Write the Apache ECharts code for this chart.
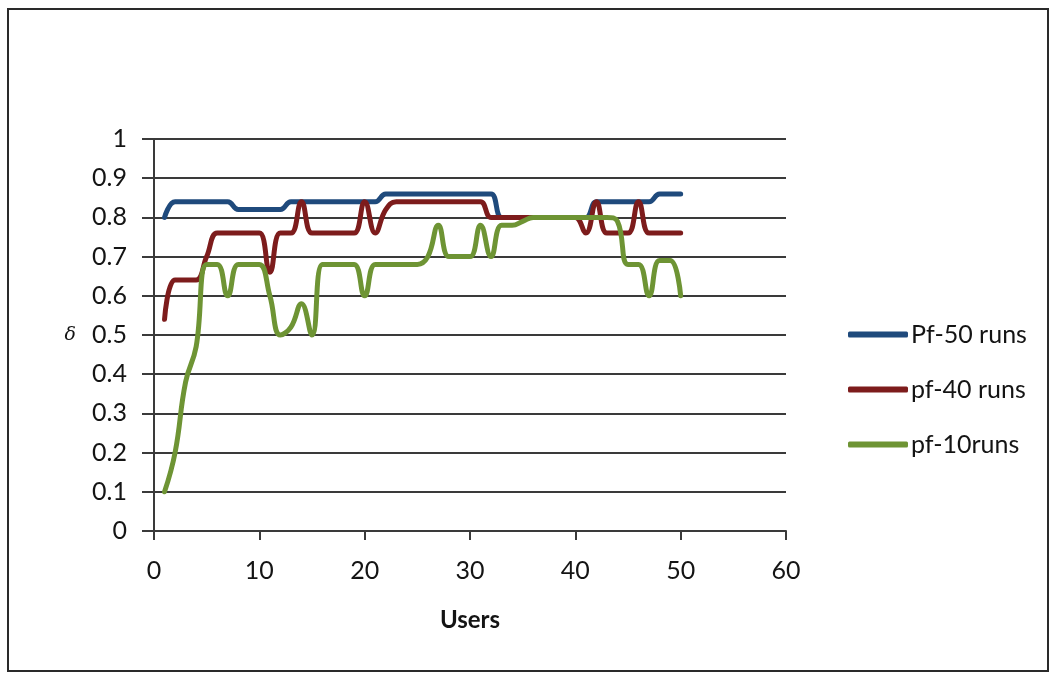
<!DOCTYPE html>
<html>
<head>
<meta charset="utf-8">
<script src="https://cdn.jsdelivr.net/npm/echarts@6/dist/echarts.min.js"></script>
<style>
  html, body { margin: 0; padding: 0; background: #ffffff; }
  #chart { width: 1056px; height: 673px; }
</style>
</head>
<body>
<div id="chart"></div>
<script>
// Users on the x axis
const users = [1, 2, 3, 4, 5, 6, 7, 8, 9, 10,
  11, 12, 13, 14, 15, 16, 17, 18, 19, 20,
  21, 22, 23, 24, 25, 26, 27, 28, 29, 30,
  31, 32, 33, 34, 35, 36, 37, 38, 39, 40,
  41, 42, 43, 44, 45, 46, 47, 48, 49, 50];

// δ per user for each number of runs
const pf50 = [0.80, 0.84, 0.84, 0.84, 0.84, 0.84, 0.84, 0.82, 0.82, 0.82,
  0.82, 0.82, 0.84, 0.84, 0.84, 0.84, 0.84, 0.84, 0.84, 0.84,
  0.84, 0.86, 0.86, 0.86, 0.86, 0.86, 0.86, 0.86, 0.86, 0.86,
  0.86, 0.86, 0.80, 0.80, 0.80, 0.80, 0.80, 0.80, 0.80, 0.80,
  0.80, 0.84, 0.84, 0.84, 0.84, 0.84, 0.84, 0.86, 0.86, 0.86];

const pf40 = [0.54, 0.64, 0.64, 0.64, 0.70, 0.76, 0.76, 0.76, 0.76, 0.76,
  0.66, 0.76, 0.76, 0.84, 0.76, 0.76, 0.76, 0.76, 0.76, 0.84,
  0.76, 0.82, 0.84, 0.84, 0.84, 0.84, 0.84, 0.84, 0.84, 0.84,
  0.84, 0.80, 0.80, 0.80, 0.80, 0.80, 0.80, 0.80, 0.80, 0.80,
  0.76, 0.84, 0.76, 0.76, 0.76, 0.84, 0.76, 0.76, 0.76, 0.76];

const pf10 = [0.10, 0.20, 0.38, 0.47, 0.68, 0.68, 0.60, 0.68, 0.68, 0.68,
  0.60, 0.50, 0.52, 0.58, 0.50, 0.68, 0.68, 0.68, 0.68, 0.60,
  0.68, 0.68, 0.68, 0.68, 0.68, 0.70, 0.78, 0.70, 0.70, 0.70,
  0.78, 0.70, 0.78, 0.78, 0.79, 0.80, 0.80, 0.80, 0.80, 0.80,
  0.80, 0.80, 0.80, 0.79, 0.68, 0.68, 0.60, 0.69, 0.69, 0.60];

const seriesNames = ['Pf-50 runs', 'pf-40 runs', 'pf-10runs'];
const seriesColors = ['#1f4a7c', '#7d1c1c', '#6e9434'];

const FONT = 'Lato, "Open Sans", sans-serif';
const TEXT = '#141414';

function pairs(ys) {
  return users.map((u, i) => [u, ys[i]]);
}

const chart = echarts.init(document.getElementById('chart'), null, { renderer: 'canvas' });

chart.setOption({
  backgroundColor: '#ffffff',
  animation: false,
  textStyle: { fontFamily: FONT, color: TEXT },
  grid: { left: 154, right: 270, top: 139, bottom: 142, containLabel: false },
  xAxis: {
    type: 'value',
    min: 0, max: 60, interval: 10,
    name: 'Users',
    nameLocation: 'middle',
    nameGap: 77,
    nameTextStyle: { fontFamily: FONT, fontSize: 24, fontWeight: 'bold', color: TEXT },
    axisLine: { show: true, lineStyle: { color: '#3a3a3a', width: 2 } },
    axisTick: { show: true, inside: false, length: 9, lineStyle: { color: '#3a3a3a', width: 2 } },
    axisLabel: { fontFamily: FONT, fontSize: 25, color: TEXT, margin: 27 },
    splitLine: { show: false }
  },
  yAxis: {
    type: 'value',
    min: 0, max: 1, interval: 0.1,
    name: 'δ',
    nameLocation: 'middle',
    nameRotate: 0,
    nameGap: 78,
    nameTextStyle: { fontFamily: '"DejaVu Serif", serif', fontStyle: 'italic', fontSize: 19, color: TEXT, padding: [18, 0, 0, 0] },
    axisLine: { show: true, lineStyle: { color: '#3a3a3a', width: 2 } },
    axisTick: { show: true, inside: false, length: 12, lineStyle: { color: '#3a3a3a', width: 2 } },
    axisLabel: {
      fontFamily: FONT, fontSize: 25, color: TEXT, margin: 27,
      formatter: v => String(+v.toFixed(1))
    },
    splitLine: { show: true, lineStyle: { color: '#3a3a3a', width: 2 } }
  },
  legend: {
    orient: 'vertical',
    left: 843,
    top: 317,
    itemWidth: 60,
    itemHeight: 6,
    itemGap: 30,
    icon: 'roundRect',
    textStyle: { fontFamily: FONT, fontSize: 25, color: TEXT, padding: [0, 0, 0, -2] },
    data: seriesNames
  },
  series: [pf50, pf40, pf10].map((ys, i) => ({
    name: seriesNames[i],
    type: 'line',
    data: pairs(ys),
    smooth: 0.45,
    showSymbol: false,
    symbol: 'none',
    color: seriesColors[i],
    lineStyle: { color: seriesColors[i], width: 5, cap: 'round', join: 'round' },
    z: 2 + i
  })),
  graphic: [{
    type: 'rect',
    shape: { x: 8, y: 9, width: 1040, height: 662 },
    style: { fill: 'none', stroke: '#2a2a2a', lineWidth: 2 },
    silent: true
  }]
});
</script>
</body>
</html>
